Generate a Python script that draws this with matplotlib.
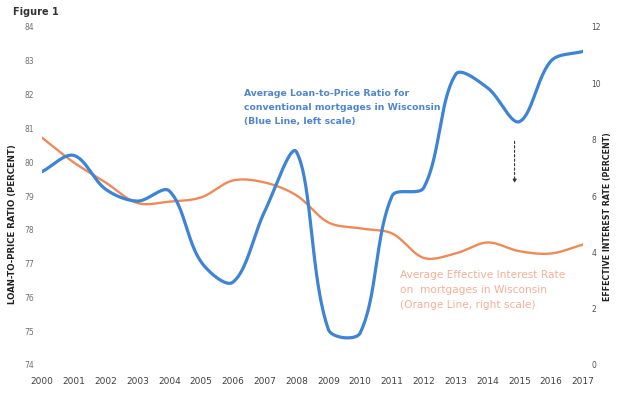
import numpy as np
import matplotlib
matplotlib.use('Agg')
import matplotlib.pyplot as plt

years = list(range(2000, 2018))
loan_to_price = [79.72, 80.2, 79.2, 78.85, 79.15, 77.05, 76.45, 78.55, 80.3,
                 75.05, 74.95, 79.0, 79.25, 82.6, 82.2, 81.2, 83.0, 83.28]
interest_rate = [8.07, 7.19, 6.48, 5.75, 5.8, 5.95, 6.55, 6.48, 6.02,
                 5.06, 4.85, 4.67, 3.8, 3.96, 4.35, 4.04, 3.96, 4.28]
left_ticks = list(range(74, 85))
right_ticks = list(range(0, 13, 2))

W, H = 627, 395
AX_L, AX_R, AX_T, AX_B = 42, 583, 27, 365


def smooth(x, y, ylim, n=40):
    # excel style smoothed line: bezier segments built in pixel space,
    # control arms scaled by neighbouring segment lengths
    sx = (AX_R - AX_L) / (x[-1] - x[0])
    sy = (AX_B - AX_T) / (ylim[1] - ylim[0])
    P = np.column_stack([np.asarray(x, float) * sx, np.asarray(y, float) * sy])
    P = np.vstack([P[0], P, P[-1]])
    t = np.linspace(0, 1, n, endpoint=False)[:, None]
    out = []
    for i in range(1, len(P) - 2):
        p0, p1, p2, p3 = P[i - 1], P[i], P[i + 1], P[i + 2]
        d01 = np.hypot(*(p1 - p0))
        d12 = np.hypot(*(p2 - p1))
        d23 = np.hypot(*(p3 - p2))
        f1 = d12 / (d01 + d12) if d01 + d12 > 0 else 0
        f2 = d12 / (d12 + d23) if d12 + d23 > 0 else 0
        c1 = p1 + (p2 - p0) * f1 / 3
        c2 = p2 - (p3 - p1) * f2 / 3
        b = ((1 - t) ** 3) * p1 + 3 * ((1 - t) ** 2) * t * c1 + 3 * (1 - t) * t ** 2 * c2 + t ** 3 * p2
        out.append(b)
    out.append(P[-2][None, :])
    out = np.vstack(out)
    return out[:, 0] / sx, out[:, 1] / sy


fig = plt.figure(figsize=(W / 100, H / 100), dpi=100)
ax = fig.add_axes([AX_L / W, 1 - AX_B / H, (AX_R - AX_L) / W, (AX_B - AX_T) / H])
ax2 = ax.twinx()

bx, by = smooth(years, loan_to_price, (74, 84))
ox, oy = smooth(years, interest_rate, (0, 12))
ax2.plot(ox, oy, color='#ee8a57', lw=1.7, solid_capstyle='round')
ax.plot(bx, by, color='#3d84d6', lw=2.3, solid_capstyle='round')
ax.set_zorder(ax2.get_zorder() + 1)
ax.patch.set_visible(False)

ax.set_xlim(2000, 2017)
ax.set_ylim(74, 84)
ax2.set_ylim(0, 12)
ax.set_xticks(years)
ax.set_yticks(left_ticks)
ax2.set_yticks(right_ticks)

for a in (ax, ax2):
    for s in a.spines.values():
        s.set_visible(False)
ax.tick_params(axis='y', length=0, pad=6, labelsize=5.5, labelcolor='#707070')
ax.tick_params(axis='x', length=0, pad=9, labelsize=6.5, labelcolor='#404040')
ax2.tick_params(axis='y', length=0, pad=6, labelsize=5.5, labelcolor='#505050')

ax.set_ylabel('LOAN-TO-PRICE RATIO (PERCENT)', fontsize=6.2, fontweight='bold', color='#222222')
ax.yaxis.set_label_coords(-0.046, 0.417)
ax2.set_ylabel('EFFECTIVE INTEREST RATE (PERCENT)', fontsize=5.7, fontweight='bold', color='#222222')
ax2.yaxis.set_label_coords(1.037, 0.44)

fig.text(13 / W, 1 - 12 / H, 'Figure 1', fontsize=7, fontweight='bold', color='#333333', va='center')

ax.text(2006.35, 82.18, 'Average Loan-to-Price Ratio for\nconventional mortgages in Wisconsin\n(Blue Line, left scale)',
        fontsize=6.7, fontweight='bold', color='#4f86cf', va='top', ha='left', linespacing=1.78)
ax2.text(2011.25, 3.36, 'Average Effective Interest Rate\non  mortgages in Wisconsin\n(Orange Line, right scale)',
         fontsize=7.6, color='#f4b095', va='top', ha='left', linespacing=1.62)

ax.annotate('', xy=(2014.85, 79.3), xytext=(2014.85, 80.7),
            arrowprops=dict(arrowstyle='-|>', linestyle=(0, (2, 2)), lw=0.8, color='#333333',
                            mutation_scale=5))

fig.savefig('out.png', dpi=100)
